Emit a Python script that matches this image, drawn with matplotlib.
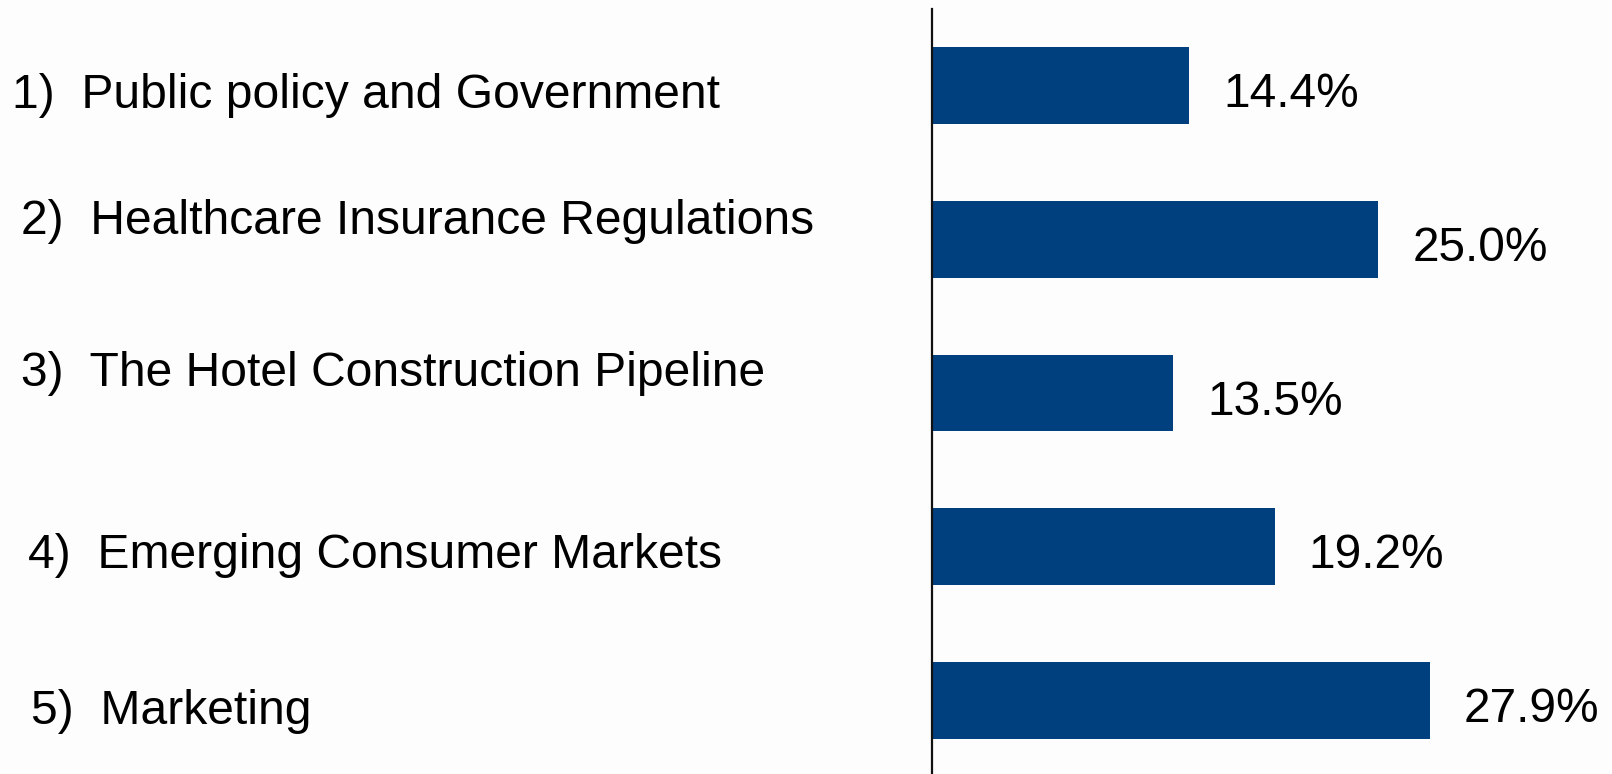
import matplotlib
matplotlib.use("Agg")
import matplotlib.pyplot as plt

categories = [
    "1)  Public policy and Government",
    "2)  Healthcare Insurance Regulations",
    "3)  The Hotel Construction Pipeline",
    "4)  Emerging Consumer Markets",
    "5)  Marketing",
]
values = [14.4, 25.0, 13.5, 19.2, 27.9]
value_labels = ["14.4%", "25.0%", "13.5%", "19.2%", "27.9%"]

# label layout (pixels): left x of category text, vertical shift from bar centre
label_x = [12, 21, 21, 28, 31]
label_dy = [-10, 18, 19, -9, -11]

W, H = 1612, 774
fig = plt.figure(figsize=(W / 100, H / 100), dpi=100, facecolor="#fdfdfd")
ax_left = 932 / W
ax_top = 1 - 9 / H
ax_bottom = -3 / H
ax = fig.add_axes([ax_left, ax_bottom, 1 - ax_left, ax_top - ax_bottom])
ax.set_facecolor("none")

ypos = list(range(len(categories)))
ax.barh(ypos, values, height=0.5, color="#00407e")
ax.set_xlim(0, (W - 932) / 17.85)
ax.set_ylim(len(categories) - 0.5, -0.5)

for s in ["top", "right", "bottom"]:
    ax.spines[s].set_visible(False)
ax.spines["left"].set_linewidth(1.6)
ax.spines["left"].set_color("#111111")
ax.set_xticks([])
ax.set_yticks([])

font = "Liberation Sans"
for y, v, lab in zip(ypos, values, value_labels):
    ax.annotate(lab, xy=(v, y), xytext=(24.5, -6.5), textcoords="offset points",
                ha="left", va="center", fontsize=34.4, family=font, color="black")

for y, cat, lx, dy in zip(ypos, categories, label_x, label_dy):
    ax.annotate(cat, xy=(lx, y), xycoords=("figure pixels", "data"),
                xytext=(0, dy * 0.72), textcoords="offset points",
                ha="left", va="center", fontsize=34.6, family=font, color="black",
                annotation_clip=False)

fig.savefig("out.png", dpi=100, facecolor=fig.get_facecolor())
